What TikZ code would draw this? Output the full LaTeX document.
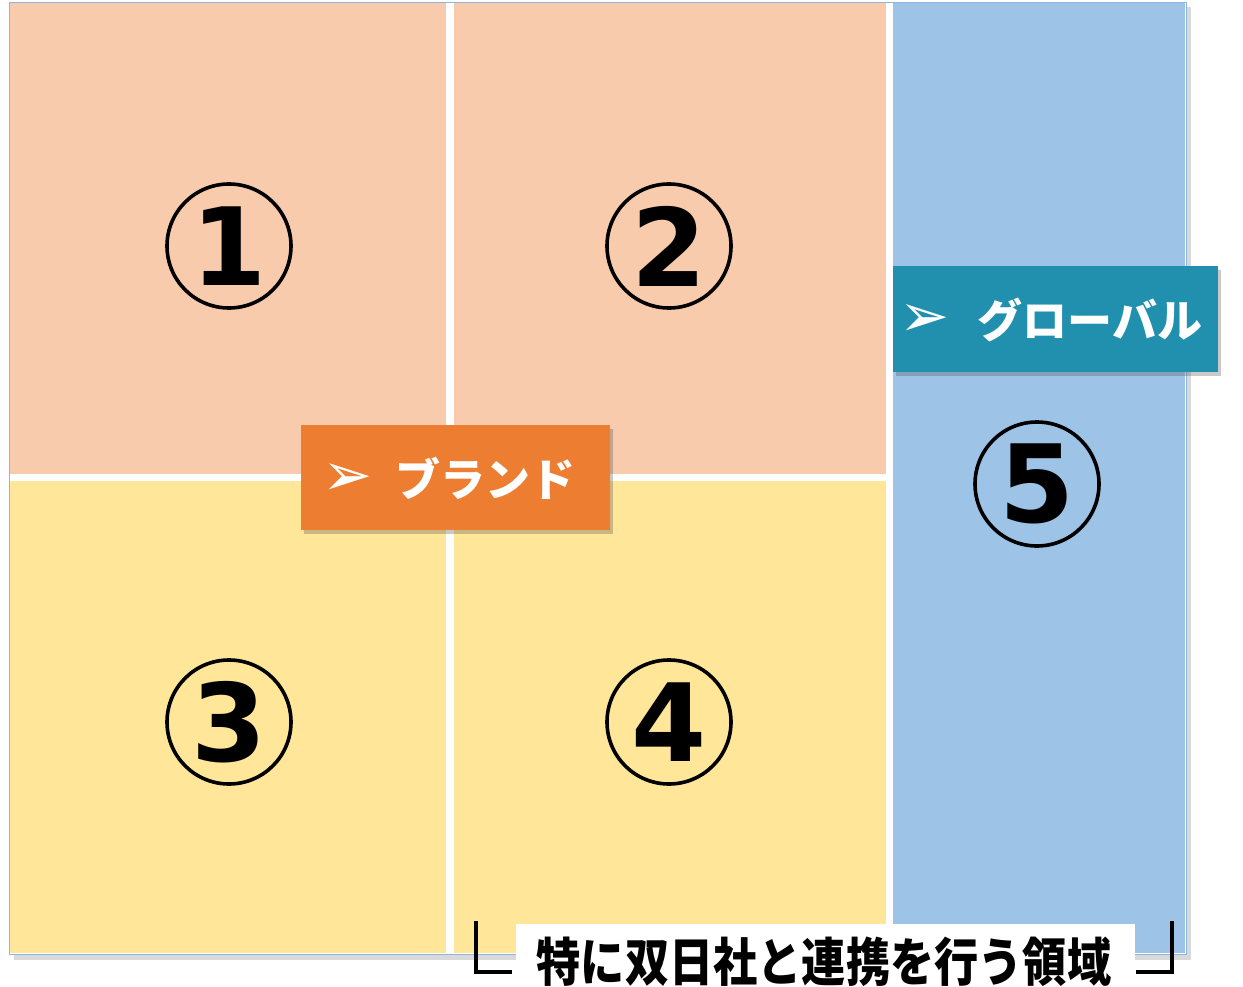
\documentclass[tikz,border=0pt]{standalone}
\usepackage{fontspec}
\newfontfamily\jp{Noto Sans CJK JP}
\newfontfamily\dv{DejaVu Sans}
\usetikzlibrary{shadows}
\definecolor{peach}{HTML}{F8CBAD}
\definecolor{sand}{HTML}{FFE699}
\definecolor{sky}{HTML}{9DC3E6}
\definecolor{brandorange}{HTML}{ED7D31}
\definecolor{teal}{HTML}{2190AE}
\definecolor{frameblue}{HTML}{8EB4E3}
\tikzset{
  quad/.style={anchor=north west, inner sep=0pt, draw=none},
  numcircle/.style={circle, draw=black, line width=3.6pt, minimum size=124pt, inner sep=0pt,
    font=\dv\bfseries\fontsize{108}{108}\selectfont},
  tag/.style={inner sep=0pt, draw=none,
    drop shadow={shadow xshift=3pt, shadow yshift=-4pt, opacity=0.3, fill=black!70}},
  tagtext/.style={text=white, inner sep=0pt, font=\jp\bfseries\fontsize{45}{45}\selectfont},
  tagarrow/.style={text=white, inner sep=0pt, font=\dv\fontsize{60}{60}\selectfont},
  bracket/.style={line width=3.4pt, black}
}
\begin{document}
\begin{tikzpicture}[x=1pt,y=-1pt]
\useasboundingbox (0,0) rectangle (1243,987);
% outer frame
\node[quad, fill=white, draw=frameblue, line width=1pt, minimum width=1177pt, minimum height=952pt,
  drop shadow={shadow xshift=4pt, shadow yshift=-5pt, opacity=0.25, fill=black!60}] (frame) at (9,2) {};
% quadrants
\node[quad, fill=peach, minimum width=436pt, minimum height=471pt] (q1) at (10,3) {};
\node[quad, fill=peach, minimum width=432pt, minimum height=471pt] (q2) at (454,3) {};
\node[quad, fill=sand, minimum width=436pt, minimum height=472pt] (q3) at (10,481) {};
\node[quad, fill=sand, minimum width=432pt, minimum height=472pt] (q4) at (454,481) {};
\node[quad, fill=sky, minimum width=292pt, minimum height=950pt] (q5) at (893,3) {};
% circled numbers
\node[numcircle] (n1) at (229,246) {1};
\node[numcircle] (n2) at (669,246) {2};
\node[numcircle] (n3) at (229,722) {3};
\node[numcircle] (n4) at (669,722) {4};
\node[numcircle] (n5) at (1037,484) {5};
% brand tag
\node[tag, fill=brandorange, minimum width=309pt, minimum height=105pt] (brand) at (455.5,477.5) {};
\node[tagarrow] (brandarrow) at (348,480) {➢};
\node[tagtext] (brandtext) at (485,478) {ブランド};
% global tag
\node[tag, fill=teal, minimum width=325pt, minimum height=106pt] (global) at (1055.5,319) {};
\node[tagarrow] (globalarrow) at (925,321) {➢};
\node[tagtext] (globaltext) at (1090,320) {グローバル};
% caption
\node[quad, fill=white, minimum width=619pt, minimum height=64pt] (capbox) at (516,924) {};
\node[inner sep=0pt, font=\jp\bfseries\fontsize{52}{52}\selectfont] (caption) at (824,962)
  {\scalebox{0.85}[1]{特に双日社と連携を行う領域}};
\coordinate (lbtop) at (476,921);
\coordinate (lbend) at (512,972);
\coordinate (rbtop) at (1172,921);
\coordinate (rbend) at (1136,972);
\draw[bracket] (lbtop) |- (lbend);
\draw[bracket] (rbtop) |- (rbend);
\end{tikzpicture}
\end{document}
